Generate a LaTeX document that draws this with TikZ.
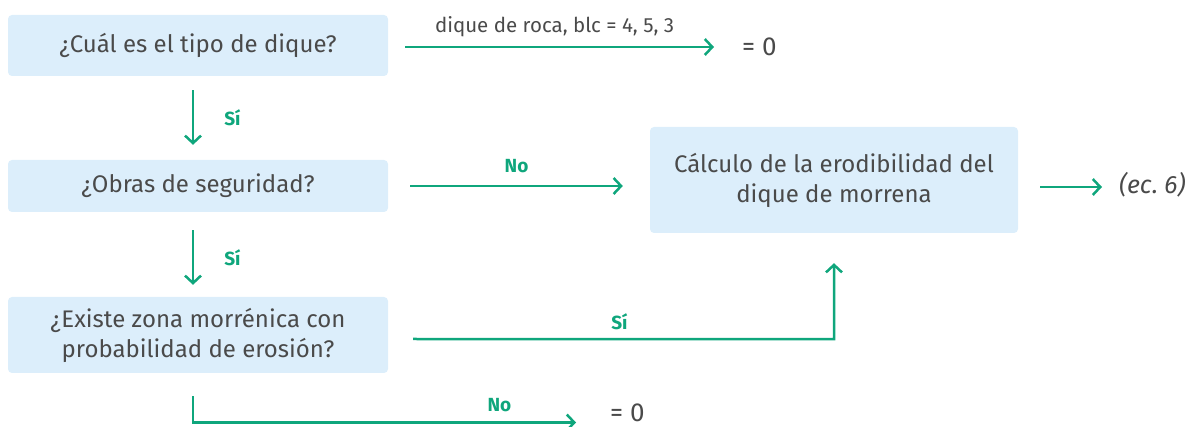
\documentclass[tikz,border=0pt]{standalone}
\usepackage{fontspec}
\setmainfont{Fira Sans}
\usetikzlibrary{arrows.meta,calc}
\definecolor{boxfill}{HTML}{DCEEFB}
\definecolor{arrgreen}{HTML}{0FA67C}
\definecolor{txt}{HTML}{4A4A4A}
\tikzset{
  qbox/.style={fill=boxfill, rounded corners=4pt, minimum width=#1, align=center, text=txt, font=\fontsize{24}{30}\selectfont, inner sep=0pt},
  arr/.style={draw=arrgreen, line width=2.5pt, -{Straight Barb[length=7.5pt,width=16pt,line width=2.5pt]}},
  glabel/.style={text=arrgreen, font=\fontsize{19}{22}\selectfont\bfseries, inner sep=0pt},
  plabel/.style={text=txt, font=\fontsize{20.5}{23}\selectfont, inner sep=0pt},
  result/.style={text=txt, font=\fontsize{26}{30}\selectfont, inner sep=0pt, anchor=west},
}
\begin{document}
\begin{tikzpicture}[x=1pt,y=-1pt]
\useasboundingbox (0,0) rectangle (1192,427);
\clip (0,0) rectangle (1192,427);
\node[qbox=380pt, minimum height=61pt] (b1) at (198,45.5) {¿Cuál es el tipo de dique?};
\node[qbox=380pt, minimum height=52pt] (b2) at (198,186) {¿Obras de seguridad?};
\node[qbox=380pt, minimum height=76pt] (b3) at (198,335) {¿Existe zona morrénica con\\probabilidad de erosión?};
\node[qbox=368pt, minimum height=106pt] (b4) at (834,180) {Cálculo de la erodibilidad del\\dique de morrena};
\node[result] (z1) at (742,47) {=~0};
\node[result] (z2) at (610,413) {=~0};
\node[result, font=\fontsize{25}{28}\selectfont\itshape] (ec) at (1119,185) {(ec.~6)};
% connectors
\draw[arr] ($(b1.east)+(17,1.5)$) -- node[plabel, above=9pt, xshift=-5pt] {dique de roca, blc = 4, 5, 3} ($(z1.west)+(-28,0)$);
\draw[arr] ($(b1.south)+(-5,14)$) -- node[glabel, right=30pt] {Sí} ($(b2.north)+(-5,-15)$);
\draw[arr] ($(b2.east)+(22,0)$) -- node[glabel, above=12pt] {No} ($(b4.west)+(-27,6)$);
\draw[arr] ($(b2.south)+(-5,18)$) -- node[glabel, right=30pt] {Sí} ($(b3.north)+(-5,-12)$);
\draw[arr] ($(b3.east)+(25,4)$) -- node[glabel, pos=0.49, above=8pt] {Sí} ($(b4.south)+(0,106)$) -- ($(b4.south)+(0,30)$);
\draw[arr] ($(b3.south)+(-5,23)$) |- node[glabel, pos=0.9, above=9pt] {No} ($(z2.west)+(-34,9.5)$);
\draw[arr] ($(b4.east)+(22,7)$) -- ($(ec.west)+(-17,2)$);
\end{tikzpicture}
\end{document}
